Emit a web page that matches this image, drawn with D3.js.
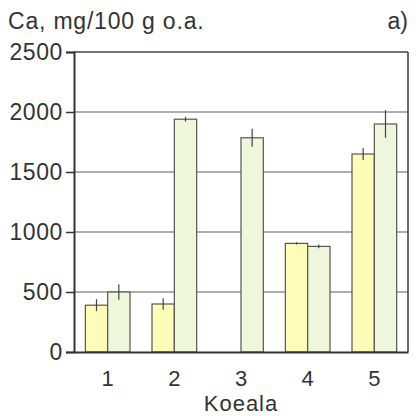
<!DOCTYPE html>
<html><head><meta charset="utf-8">
<script src="https://cdn.jsdelivr.net/npm/d3@7"></script>
<style>body{margin:0;background:#fff}svg{display:block}text{font-family:"Liberation Sans",Arial,sans-serif;fill:#333}</style>
</head><body>
<script>
const categories = ["1","2","3","4","5"];
const series1 = [390, 400, null, 905, 1650];
const series1Err = [50, 48, null, 10, 50];
const series2 = [500, 1940, 1785, 880, 1900];
const series2Err = [65, 20, 75, 15, 115];
const yTicks = [0, 500, 1000, 1500, 2000, 2500];
const title = "Ca, mg/100 g o.a.";
const panel = "a)";
const xTitle = "Koeala";

const W = 416, H = 416;
const m = {l: 74, r: 8, t: 52, b: 64};
const svg = d3.select("body").append("svg").attr("width", W).attr("height", H);
const x = d3.scaleBand().domain(categories).range([m.l, W - m.r]).paddingInner(0.33).paddingOuter(0.17);
const xs = d3.scaleBand().domain([0,1]).range([0, x.bandwidth()]);
const y = d3.scaleLinear().domain([0, 2500]).range([H - m.b, m.t]);

// gridlines
svg.append("g").selectAll("line").data(yTicks.filter(d => d > 0 && d < 2500)).join("line")
  .attr("x1", m.l).attr("x2", W - m.r).attr("y1", d => y(d)).attr("y2", d => y(d))
  .attr("stroke", "#5e5e5e").attr("stroke-width", 1.2);

const colors = ["#fffbb8", "#eef7dc"];
const data = [];
categories.forEach((c, i) => {
  data.push({c, s: 0, v: series1[i], e: series1Err[i]});
  data.push({c, s: 1, v: series2[i], e: series2Err[i]});
});
const valid = data.filter(d => d.v != null);
svg.append("g").selectAll("rect").data(valid).join("rect")
  .attr("x", d => x(d.c) + xs(d.s)).attr("width", xs.bandwidth())
  .attr("y", d => y(d.v)).attr("height", d => y(0) - y(d.v))
  .attr("fill", d => colors[d.s]).attr("stroke", "#555").attr("stroke-width", 1.2);
svg.append("g").selectAll("line").data(valid).join("line")
  .attr("x1", d => x(d.c) + xs(d.s) + xs.bandwidth()/2)
  .attr("x2", d => x(d.c) + xs(d.s) + xs.bandwidth()/2)
  .attr("y1", d => y(d.v - d.e)).attr("y2", d => y(d.v + d.e))
  .attr("stroke", "#444").attr("stroke-width", 1.2);

// frame top and right
svg.append("line").attr("x1", m.l).attr("x2", W - m.r).attr("y1", y(2500)).attr("y2", y(2500)).attr("stroke", "#444").attr("stroke-width", 1.6);
svg.append("line").attr("x1", W - m.r).attr("x2", W - m.r).attr("y1", y(2500)).attr("y2", y(0)).attr("stroke", "#444").attr("stroke-width", 1.6);

// y axis
const ya = svg.append("g").attr("transform", `translate(${m.l},0)`)
  .call(d3.axisLeft(y).tickValues(yTicks).tickSize(8).tickPadding(3).tickFormat(d3.format("d")));
ya.select(".domain").attr("stroke", "#333").attr("stroke-width", 2);
ya.selectAll(".tick line").attr("stroke", "#333").attr("stroke-width", 1.5);
ya.selectAll(".tick text").attr("font-size", 23).attr("letter-spacing", "0.6px").attr("fill", "#333").attr("font-family", "Liberation Sans, Arial, sans-serif");

// x axis baseline
const xa = svg.append("g").attr("transform", `translate(0,${y(0)})`)
  .call(d3.axisBottom(x).tickSize(0).tickPadding(18));
xa.select(".domain").attr("stroke", "#333").attr("stroke-width", 2);
xa.selectAll(".tick text").attr("font-size", 22).attr("fill", "#333").attr("dy", "0.71em").attr("font-family", "Liberation Sans, Arial, sans-serif");

svg.append("text").attr("x", 8).attr("y", 29).attr("font-size", 23).attr("letter-spacing", "0.8px").text(title);
svg.append("text").attr("x", 408).attr("y", 29).attr("text-anchor", "end").attr("font-size", 23).text(panel);
svg.append("text").attr("x", (m.l + W - m.r)/2).attr("y", 411).attr("text-anchor", "middle").attr("font-size", 22).attr("letter-spacing", "1px").text(xTitle);
</script>
</body></html>
